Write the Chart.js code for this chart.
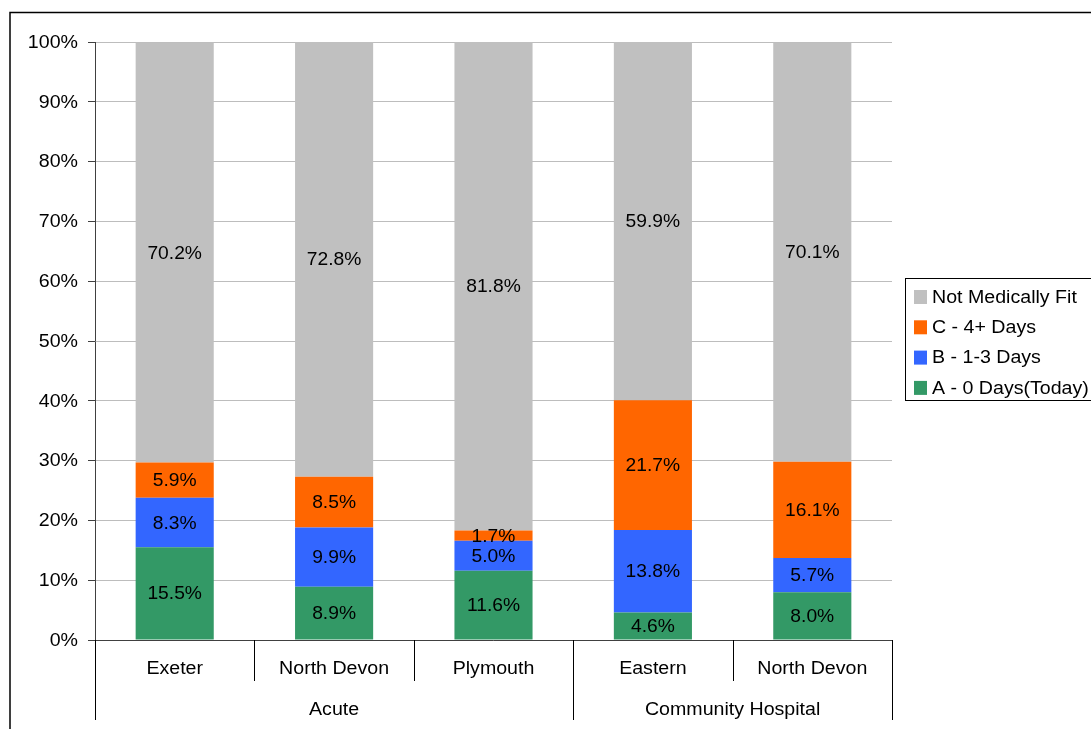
<!DOCTYPE html>
<html><head><meta charset="utf-8">
<script src="https://cdn.jsdelivr.net/npm/chart.js@4.4.0/dist/chart.umd.min.js"></script>
<style>html,body{margin:0;padding:0;background:#fff;}#wrap{width:1091px;height:729px;position:relative;}</style>
</head><body><div id="wrap"><canvas id="c" width="1091" height="729"></canvas></div>
<script>
const categories = ["Exeter","North Devon","Plymouth","Eastern","North Devon"];
const groups = [{label:"Acute", from:0, to:2},{label:"Community Hospital", from:3, to:4}];
const seriesA = [15.5, 8.9, 11.6, 4.6, 8.0];
const seriesB = [8.3, 9.9, 5.0, 13.8, 5.7];
const seriesC = [5.9, 8.5, 1.7, 21.7, 16.1];
const seriesNMF = [70.2, 72.8, 81.8, 59.9, 70.1];
const yTicks = [0,10,20,30,40,50,60,70,80,90,100];
const seriesNames = ["A - 0 Days(Today)","B - 1-3 Days","C - 4+ Days","Not Medically Fit"];
const seriesColors = ["#339966","#3366FF","#FF6600","#C0C0C0"];
const FONT = "'Liberation Sans', Arial, sans-serif";

function txt(ctx, s, x, y, align, size, sx){
  ctx.save();
  ctx.font = size + "px " + FONT;
  ctx.textAlign = align;
  ctx.textBaseline = "middle";
  ctx.fillStyle = "#000";
  ctx.translate(x, y);
  ctx.scale(sx, 1);
  ctx.fillText(s, 0, 0);
  ctx.restore();
}

const overlay = {
  id:'overlay',
  afterDatasetsDraw(chart){
    const ctx = chart.ctx;
    chart.data.datasets.forEach((ds,i)=>{
      const meta = chart.getDatasetMeta(i);
      meta.data.forEach((el,j)=>{
        const v = ds.data[j];
        const y = (el.y + el.base)/2;
        txt(ctx, v.toFixed(1)+"%", el.x, y+1, "center", 18.5, 1.04);
      });
    });
  },
  afterDraw(chart){
    const ctx = chart.ctx;
    const ca = chart.chartArea;
    const xs = chart.scales.x, ys = chart.scales.y;
    ctx.save();
    // y tick labels
    yTicks.forEach(t=>{
      txt(ctx, t+"%", 78, ys.getPixelForValue(t)+1, "right", 17.5, 1.12);
    });
    // x axis line
    ctx.strokeStyle = "#404040";
    ctx.lineWidth = 1;
    ctx.beginPath();
    ctx.moveTo(ca.left, ca.bottom+0.5); ctx.lineTo(ca.right, ca.bottom+0.5);
    ctx.stroke();
    // separators
    const n = categories.length;
    const step = (ca.right - ca.left)/n;
    const groupEdges = new Set();
    groups.forEach(g=>{groupEdges.add(g.from); groupEdges.add(g.to+1);});
    ctx.strokeStyle = "#000";
    for(let k=0;k<=n;k++){
      const x = Math.round(ca.left + k*step)+0.5;
      const yEnd = groupEdges.has(k) ? ca.bottom+80 : ca.bottom+41;
      ctx.beginPath(); ctx.moveTo(x, ca.bottom); ctx.lineTo(x, yEnd); ctx.stroke();
    }
    // category labels
    categories.forEach((c,k)=>{
      txt(ctx, c, xs.getPixelForValue(k), ca.bottom+29, "center", 17.5, 1.12);
    });
    groups.forEach(g=>{
      const x1 = xs.getPixelForValue(g.from), x2 = xs.getPixelForValue(g.to);
      txt(ctx, g.label, (x1+x2)/2, ca.bottom+70, "center", 17.5, 1.12);
    });
    // frame
    ctx.strokeStyle = "#000";
    ctx.lineWidth = 1.5;
    ctx.beginPath();
    ctx.moveTo(10, 729); ctx.lineTo(10, 12.5); ctx.lineTo(1091, 12.5);
    ctx.stroke();
    // legend
    ctx.lineWidth = 1;
    ctx.strokeStyle = "#000";
    ctx.strokeRect(905.5, 278.5, 200, 122);
    const order = [3,2,1,0];
    order.forEach((si,r)=>{
      const y = 297 + r*30.3;
      ctx.fillStyle = seriesColors[si];
      ctx.fillRect(914, y-7, 13, 14);
      txt(ctx, seriesNames[si], 932, y+1, "left", 17.5, 1.12);
    });
    ctx.restore();
  }
};

const allSeries = [seriesA, seriesB, seriesC, seriesNMF];
new Chart(document.getElementById('c'), {
  type:'bar',
  data:{
    labels: categories.map((c,i)=>c+"#"+i),
    datasets: allSeries.map((d,i)=>({
      label: seriesNames[i], data: d, backgroundColor: seriesColors[i],
      borderWidth:0, categoryPercentage:1.0, barPercentage:0.49
    }))
  },
  options:{
    responsive:false, animation:false,
    layout:{padding:{left:0, right:199, top:42, bottom:89}},
    plugins:{legend:{display:false}, tooltip:{enabled:false}, title:{display:false}},
    scales:{
      x:{stacked:true, display:false},
      y:{stacked:true, min:0, max:100,
        ticks:{stepSize:10, callback:v=>v+"%", color:"rgba(0,0,0,0)", font:{family:FONT, size:17}, padding:10},
        grid:{color:"#BDBDBD", lineWidth:1, tickLength:7, tickColor:"#404040"},
        border:{color:"#404040", width:1},
        afterFit(s){ s.width = 95; }
      }
    }
  },
  plugins:[overlay]
});
</script></body></html>
